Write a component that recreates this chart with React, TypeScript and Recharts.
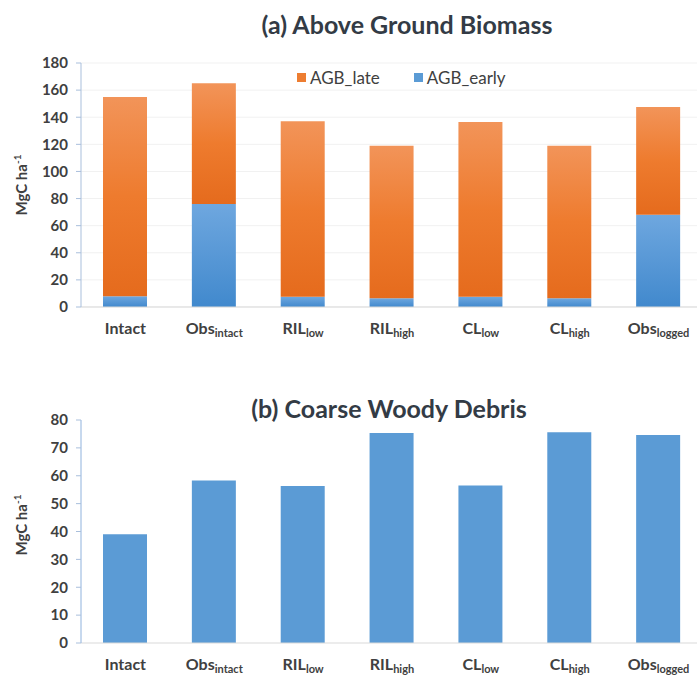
import React from 'react';
import { BarChart, Bar, XAxis, YAxis, CartesianGrid } from 'recharts';

const categories = ['Intact', 'Obs_intact', 'RIL_low', 'RIL_high', 'CL_low', 'CL_high', 'Obs_logged'];
const tickMain = ['Intact', 'Obs', 'RIL', 'RIL', 'CL', 'CL', 'Obs'];
const tickSub = ['', 'intact', 'low', 'high', 'low', 'high', 'logged'];
const agbEarly = [8, 76, 7.5, 6.5, 7.5, 6.5, 68];
const agbLate = [147, 89, 129.5, 112.5, 129, 112.5, 79.5];
const cwd = [39, 58.3, 56.3, 75.3, 56.5, 75.6, 74.6];
const agbTicks = [0, 20, 40, 60, 80, 100, 120, 140, 160, 180];
const cwdTicks = [0, 10, 20, 30, 40, 50, 60, 70, 80];

const agbData = categories.map((c, i) => ({ cat: c, early: agbEarly[i], late: agbLate[i] }));
const cwdData = categories.map((c, i) => ({ cat: c, cwd: cwd[i] }));

const FONT = 'Lato, "Open Sans", sans-serif';
const TXT = '#404040';

const XTick = (props: any) => {
  const { x, y, payload, dyMain } = props;
  const i = categories.indexOf(payload.value);
  return (
    <text x={x} y={y + dyMain} textAnchor="middle" fill={TXT} fontFamily={FONT} fontWeight={700}>
      <tspan fontSize={16}>{tickMain[i]}</tspan>
      {tickSub[i] ? <tspan fontSize={11} dy={3}>{tickSub[i]}</tspan> : null}
    </text>
  );
};

const YLabel = ({ top }: { top: number }) => (
  <div style={{ position: 'absolute', left: 10, top: top, width: 20, height: 0 }}>
    <div style={{ position: 'absolute', left: 0, top: 0, transform: 'translate(-50%, -50%) rotate(-90deg)', whiteSpace: 'nowrap', fontFamily: FONT, fontWeight: 700, fontSize: 15, color: TXT, marginLeft: 10 }}>
      MgC ha<sup style={{ fontSize: 10 }}>-1</sup>
    </div>
  </div>
);

export default function App() {
  return (
    <div style={{ position: 'absolute', left: 0, top: 0, width: 697, height: 675, overflow: 'hidden', background: '#fff' }}>
      <div style={{ position: 'absolute', left: 207, width: 400, top: 9, textAlign: 'center', fontFamily: FONT, fontWeight: 700, fontSize: 25, color: '#333b45' }}>
        (a) Above Ground Biomass
      </div>
      <div style={{ position: 'absolute', left: 0, top: 0 }}>
        <BarChart width={710} height={350} data={agbData} margin={{ top: 63, right: 7, left: 21, bottom: 3 }} barSize={44}>
          <defs>
            <linearGradient id="gOrange" x1="0" y1="0" x2="0" y2="1">
              <stop offset="0%" stopColor="#F29459" />
              <stop offset="50%" stopColor="#EE7B2E" />
              <stop offset="100%" stopColor="#E56B1D" />
            </linearGradient>
            <linearGradient id="gBlue" x1="0" y1="0" x2="0" y2="1">
              <stop offset="0%" stopColor="#6EA7DF" />
              <stop offset="50%" stopColor="#5898D6" />
              <stop offset="100%" stopColor="#4189CD" />
            </linearGradient>
          </defs>
          <CartesianGrid vertical={false} stroke="#f1f1f1" />
          <XAxis dataKey="cat" height={40} axisLine={{ stroke: '#d9d9d9' }} tickLine={false} interval={0} tick={<XTick dyMain={19} />} />
          <YAxis width={60} domain={[0, 180]} ticks={agbTicks} interval={0} axisLine={{ stroke: '#a9bfdc' }} tickLine={{ stroke: '#a9bfdc' }} tickSize={5} tickMargin={8} tick={{ fill: TXT, fontSize: 15, fontWeight: 700, fontFamily: FONT }} />
          <Bar dataKey="early" stackId="a" fill="url(#gBlue)" isAnimationActive={false} />
          <Bar dataKey="late" stackId="a" fill="url(#gOrange)" isAnimationActive={false} />
        </BarChart>
      </div>
      <div style={{ position: 'absolute', left: 297, top: 67, display: 'flex', alignItems: 'center', fontFamily: FONT, fontSize: 17, color: TXT }}>
        <span style={{ display: 'inline-block', width: 9, height: 9, background: '#ED7D31', marginRight: 4 }} />
        <span style={{ marginRight: 34 }}>AGB_late</span>
        <span style={{ display: 'inline-block', width: 9, height: 9, background: '#5B9BD5', marginRight: 4 }} />
        <span>AGB_early</span>
      </div>
      <YLabel top={185} />

      <div style={{ position: 'absolute', left: 189, width: 400, top: 393, textAlign: 'center', fontFamily: FONT, fontWeight: 700, fontSize: 25, color: '#333b45' }}>
        (b) Coarse Woody Debris
      </div>
      <div style={{ position: 'absolute', left: 0, top: 360 }}>
        <BarChart width={710} height={315} data={cwdData} margin={{ top: 60, right: 7, left: 21, bottom: 2 }} barSize={44}>
          <XAxis dataKey="cat" height={30} axisLine={{ stroke: '#d9d9d9' }} tickLine={false} interval={0} tick={<XTick dyMain={19} />} />
          <YAxis width={60} domain={[0, 80]} ticks={cwdTicks} interval={0} axisLine={{ stroke: '#8fb2dd' }} tickLine={{ stroke: '#a9bfdc' }} tickSize={5} tickMargin={8} tick={{ fill: TXT, fontSize: 15, fontWeight: 700, fontFamily: FONT }} />
          <Bar dataKey="cwd" fill="#5B9BD5" isAnimationActive={false} />
        </BarChart>
      </div>
      <YLabel top={525} />
    </div>
  );
}
